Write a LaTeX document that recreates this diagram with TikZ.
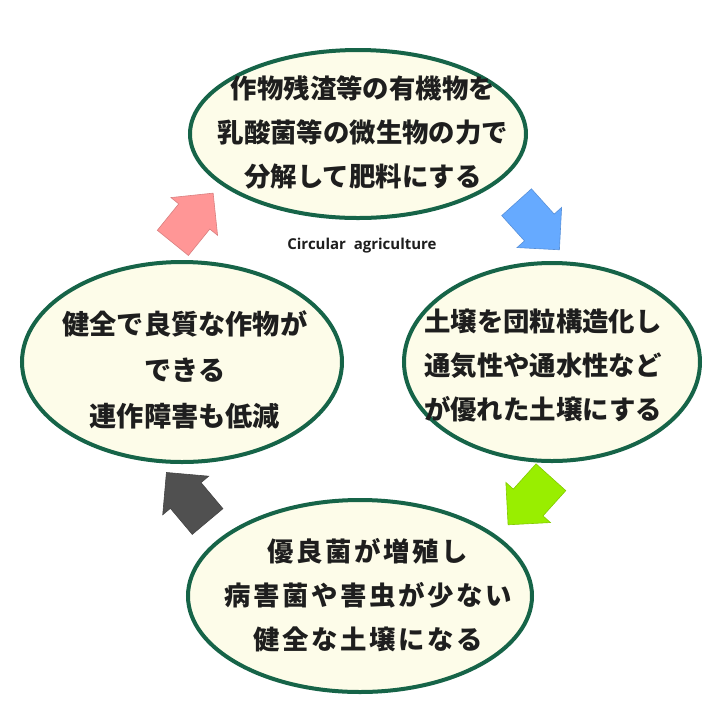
\documentclass[tikz,border=0pt]{standalone}
\usepackage{fontspec}
\setmainfont{Noto Sans}
\newfontfamily\jpfont{Noto Sans CJK JP}
\newfontfamily\labelfont{Open Sans}
\usetikzlibrary{shapes.geometric}

\definecolor{ringgreen}{RGB}{22,100,72}
\definecolor{creamfill}{RGB}{253,252,233}
\definecolor{pinkarrow}{RGB}{255,150,150}
\definecolor{bluearrow}{RGB}{102,170,255}
\definecolor{limearrow}{RGB}{153,238,0}
\definecolor{grayarrow}{RGB}{80,80,80}
\definecolor{inktext}{RGB}{30,30,30}

\tikzset{
  cyclering/.style={ellipse,draw=ringgreen,line width=2pt,fill=creamfill,inner sep=0pt},
  cycletext/.style={font=\jpfont\bfseries\fontsize{13.2}{22}\selectfont,text=inktext,align=center,inner sep=0pt},
}

% block arrow: colour, centre, angle
\newcommand{\blockarrow}[3]{%
\filldraw[fill=#1,draw=#1!85!black,line width=0.3pt,shift={(#2)},rotate=#3]
  (-32,-20) -- (2,-20) -- (2,-30) -- (32,0) -- (2,30) -- (2,20) -- (-32,20) -- cycle;}

\begin{document}
\begin{tikzpicture}[x=0.5pt,y=-0.5pt]
\useasboundingbox[fill=white] (0,0) rectangle (720,720);

\node[cyclering,minimum width=168pt,minimum height=84pt] (decomp) at (358,134) {};
\node[cyclering,minimum width=148pt,minimum height=99pt] (soil) at (552,362) {};
\node[cyclering,minimum width=172pt,minimum height=96pt] (microbe) at (360,596) {};
\node[cyclering,minimum width=160pt,minimum height=100pt] (crop) at (182,362) {};

\node[cycletext] (decomp text) at (363,132) {作物残渣等の有機物を\\乳酸菌等の微生物の力で\\分解して肥料にする};
\node[cycletext] (soil text) at (543,366) {土壌を団粒構造化し\\通気性や通水性など\\が優れた土壌にする};
\node[cycletext,font=\jpfont\bfseries\fontsize{13.6}{23}\selectfont] (crop text) at (185,370) {健全で良質な作物が\\できる\\連作障害も低減};
\node[cycletext,font=\jpfont\bfseries\fontsize{13.2}{22}\selectfont\addfontfeatures{LetterSpace=10}] (microbe text) at (368,595) {優良菌が増殖し\\病害菌や害虫が少ない\\健全な土壌になる};

\node[font=\labelfont\bfseries\fontsize{7.5}{10}\selectfont,text=inktext] (title) at (362,246) {Circular~ agriculture};

\blockarrow{pinkarrow}{193,218}{51}
\blockarrow{bluearrow}{538,226}{-48}
\blockarrow{limearrow}{529.5,501}{-132}
\blockarrow{grayarrow}{187,497}{130}

\end{tikzpicture}
\end{document}
